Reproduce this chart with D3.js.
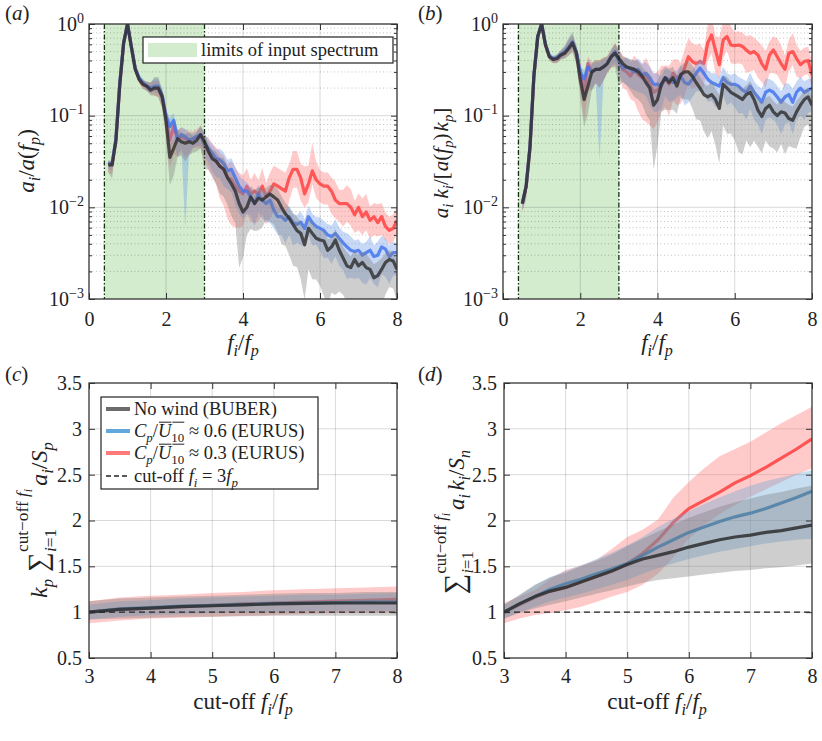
<!DOCTYPE html>
<html>
<head>
<meta charset="utf-8">
<script src="https://cdn.jsdelivr.net/npm/d3@7"></script>
<style>
  body { margin: 0; background: #fff; }
  text { font-family: "Liberation Serif", "DejaVu Serif", serif; fill: #222; white-space: pre; }
</style>
</head>
<body>
<script>
// ---------- data ----------
// frequency grid f_i/f_p for panels (a) and (b)
var fGrid = [0.5,0.6,0.7,0.8,0.9,1.0,1.1,1.2,1.3,1.4,1.5,1.6,1.7,1.8,1.9,2.0,2.1,2.2,2.3,2.4,2.5,2.6,2.7,2.8,2.9,
  3.0,3.1,3.2,3.3,3.4,3.5,3.6,3.7,3.8,3.9,4.0,4.1,4.2,4.3,4.4,4.5,4.6,4.7,4.8,4.9,5.0,5.1,5.2,5.3,5.4,5.5,5.6,5.7,5.8,5.9,
  6.0,6.1,6.2,6.3,6.4,6.5,6.6,6.7,6.8,6.9,7.0,7.1,7.2,7.3,7.4,7.5,7.6,7.7,7.8,7.9,8.0];
var specLimits = [0.4, 3];

// (a) a_i / a(f_p)
var aBlack = [0.029,0.029,0.054,0.22,0.62,1.0, 0.56,0.32,0.25,0.22,0.21,0.19,0.20,0.20,0.16,
  0.089,0.035,0.044,0.056,0.052,0.050,0.052,0.050,0.054,0.062,
  0.052,0.041,0.034,0.032,0.028,0.026,0.021,0.018,0.015,0.011,
  0.0089,0.010,0.013,0.011,0.0126,0.012,0.013,0.014,0.013,0.012,
  0.010,0.0085,0.0076,0.0065,0.0056,0.0052,0.0039,0.0059,0.0052,0.0046,
  0.0044,0.0043,0.0034,0.0037,0.0044,0.0034,0.0028,0.0023,0.0022,0.0027,
  0.0023,0.0025,0.0022,0.0021,0.0017,0.0018,0.0021,0.0025,0.0027,0.0026,0.0021];
var aBlue = [0.030,0.030,0.056,0.23,0.63,1.0, 0.57,0.33,0.26,0.23,0.21,0.20,0.21,0.21,0.17,
  0.10,0.076,0.089,0.056,0.062,0.059,0.054,0.056,0.059,0.062,
  0.050,0.044,0.039,0.034,0.033,0.030,0.025,0.026,0.021,0.017,
  0.015,0.015,0.013,0.011,0.014,0.012,0.011,0.012,0.0093,0.0079,
  0.0079,0.0072,0.0079,0.0068,0.0065,0.0069,0.0059,0.0079,0.0068,0.0062,
  0.0059,0.0056,0.0050,0.0048,0.0052,0.0046,0.0041,0.0037,0.0034,0.0033,
  0.0034,0.0030,0.0032,0.0034,0.0029,0.0030,0.0037,0.0035,0.0029,0.0032,0.0032];
var aRed = [0.030,0.029,0.055,0.22,0.62,1.0, 0.56,0.33,0.25,0.22,0.21,0.20,0.20,0.20,0.16,
  0.10,0.054,0.076,0.056,0.059,0.056,0.054,0.056,0.059,0.062,
  0.046,0.041,0.035,0.032,0.028,0.026,0.021,0.020,0.017,0.015,
  0.014,0.017,0.014,0.015,0.014,0.017,0.013,0.015,0.018,0.017,
  0.016,0.015,0.021,0.026,0.026,0.021,0.014,0.018,0.025,0.020,
  0.018,0.017,0.017,0.015,0.012,0.011,0.011,0.011,0.010,0.0083,
  0.010,0.0079,0.0089,0.0072,0.0079,0.0068,0.0079,0.0062,0.0056,0.0059,0.0072];

// (b) a_i k_i / [a(f_p) k_p]
var bBlack = [0.011,0.017,0.046,0.27,0.73,1.0, 0.59,0.44,0.41,0.42,0.46,0.48,0.54,0.62,0.48,
  0.25,0.15,0.21,0.30,0.32,0.32,0.34,0.37,0.44,0.48,
  0.42,0.37,0.34,0.33,0.32,0.30,0.27,0.23,0.20,0.13,
  0.15,0.22,0.26,0.23,0.26,0.21,0.28,0.30,0.30,0.27,
  0.23,0.20,0.17,0.16,0.17,0.15,0.12,0.22,0.20,0.18,
  0.17,0.16,0.15,0.17,0.18,0.15,0.115,0.098,0.12,0.13,
  0.11,0.10,0.11,0.107,0.093,0.089,0.11,0.13,0.15,0.16,0.13];
var bBlue = [0.011,0.017,0.047,0.28,0.74,1.0, 0.60,0.45,0.42,0.43,0.47,0.50,0.56,0.64,0.50,
  0.30,0.25,0.34,0.30,0.32,0.32,0.34,0.37,0.44,0.50,
  0.39,0.33,0.34,0.32,0.30,0.32,0.28,0.29,0.26,0.22,
  0.22,0.21,0.26,0.25,0.23,0.25,0.27,0.23,0.22,0.25,
  0.29,0.33,0.29,0.25,0.23,0.22,0.21,0.26,0.23,0.22,
  0.22,0.21,0.19,0.18,0.21,0.18,0.16,0.14,0.18,0.19,
  0.18,0.16,0.14,0.16,0.17,0.14,0.18,0.20,0.18,0.19,0.20];
var bRed = [0.011,0.017,0.046,0.27,0.73,1.0, 0.59,0.44,0.41,0.42,0.46,0.49,0.55,0.63,0.49,
  0.30,0.18,0.37,0.30,0.32,0.32,0.34,0.37,0.44,0.50,
  0.40,0.32,0.30,0.27,0.32,0.28,0.26,0.27,0.22,0.18,
  0.19,0.22,0.25,0.22,0.29,0.26,0.27,0.33,0.44,0.39,
  0.37,0.39,0.37,0.62,0.76,0.52,0.36,0.67,0.73,0.59,
  0.58,0.59,0.57,0.52,0.48,0.50,0.46,0.37,0.32,0.46,
  0.52,0.44,0.37,0.32,0.48,0.50,0.42,0.36,0.39,0.40,0.28];

// spread of the shaded bands, in decades below / above the mean (same in (a) and (b))
var blackDn = [0.08,0.15,0.05,0.03,0.02,0.01, 0.03,0.04,0.04,0.05,0.05,0.06,0.08,0.1,0.12,
  0.2,0.3,0.3,0.2,0.15,0.2,0.15,0.1,0.12,0.15, 0.3,0.2,0.2,0.25,0.3,0.3,0.3,0.35,0.35,0.7,
  0.5,0.3,0.35,0.3,0.35,0.3,0.25,0.3,0.3,0.35, 0.4,0.35,0.4,0.45,0.4,0.5,0.6,0.45,0.5,0.45,
  0.5,0.6,0.6,0.5,0.6,0.45,0.4,0.4,0.35,0.45, 0.4,0.4,0.35,0.45,0.3,0.3,0.4,0.35,0.3,0.3,0.35];
var blackUp = [0.04,0.04,0.03,0.02,0.01,0.0, 0.03,0.03,0.03,0.04,0.05,0.08,0.12,0.12,0.08,
  0.08,0.15,0.1,0.1,0.1,0.1,0.1,0.08,0.08,0.1, 0.1,0.08,0.1,0.1,0.1,0.12,0.1,0.12,0.15,0.2,
  0.2,0.15,0.12,0.15,0.12,0.12,0.1,0.1,0.12,0.12, 0.12,0.12,0.12,0.12,0.15,0.12,0.15,0.1,0.12,0.12,
  0.1,0.12,0.12,0.1,0.12,0.12,0.12,0.15,0.12,0.1, 0.12,0.12,0.15,0.12,0.15,0.15,0.12,0.1,0.1,0.1,0.1];
var blueDn = [0.05,0.08,0.04,0.03,0.02,0.01, 0.03,0.03,0.04,0.04,0.05,0.05,0.06,0.08,0.1,
  0.15,0.25,0.2,0.2,0.15,1.0,0.15,0.1,0.1,0.12, 0.15,0.15,0.2,0.2,0.2,0.25,0.2,0.25,0.3,0.3,
  0.3,0.25,0.2,0.25,0.2,0.2,0.2,0.25,0.2,0.2, 0.2,0.25,0.2,0.25,0.2,0.25,0.2,0.2,0.25,0.2,
  0.25,0.3,0.25,0.3,0.25,0.3,0.3,0.35,0.3,0.3, 0.3,0.3,0.35,0.3,0.3,0.35,0.3,0.3,0.3,0.25,0.25];
var blueUp = [0.03,0.03,0.03,0.02,0.01,0.0, 0.03,0.03,0.03,0.04,0.04,0.06,0.08,0.08,0.06,
  0.06,0.1,0.08,0.08,0.08,0.08,0.08,0.06,0.06,0.08, 0.1,0.1,0.1,0.1,0.12,0.12,0.12,0.12,0.12,0.12,
  0.12,0.1,0.1,0.1,0.1,0.1,0.12,0.1,0.1,0.1, 0.1,0.1,0.12,0.1,0.1,0.12,0.1,0.12,0.1,0.1,
  0.12,0.1,0.12,0.12,0.15,0.12,0.12,0.15,0.15,0.12, 0.12,0.12,0.12,0.15,0.12,0.15,0.12,0.12,0.12,0.12,0.1];
var redDn = [0.1,0.1,0.05,0.03,0.02,0.01, 0.03,0.04,0.04,0.05,0.05,0.06,0.08,0.1,0.12,
  0.2,0.3,0.3,0.2,0.15,0.2,0.15,0.1,0.12,0.15, 0.15,0.2,0.2,0.25,0.35,0.4,0.45,0.5,0.45,0.4,
  0.35,0.3,0.3,0.35,0.3,0.3,0.3,0.3,0.3,0.3, 0.25,0.3,0.25,0.2,0.2,0.25,0.15,0.2,0.15,0.2,
  0.2,0.2,0.2,0.25,0.2,0.2,0.25,0.2,0.2,0.2, 0.25,0.2,0.2,0.2,0.2,0.15,0.2,0.15,0.15,0.15,0.15];
var redUp = [0.04,0.04,0.03,0.02,0.01,0.0, 0.03,0.03,0.03,0.04,0.05,0.06,0.08,0.08,0.06,
  0.06,0.1,0.08,0.1,0.1,0.1,0.1,0.08,0.08,0.1, 0.12,0.15,0.15,0.15,0.15,0.15,0.15,0.2,0.2,0.2,
  0.2,0.2,0.15,0.2,0.15,0.2,0.15,0.2,0.2,0.2, 0.2,0.2,0.15,0.2,0.2,0.15,0.3,0.2,0.3,0.2,
  0.15,0.15,0.15,0.15,0.2,0.15,0.15,0.2,0.2,0.15, 0.15,0.2,0.2,0.15,0.15,0.2,0.15,0.15,0.15,0.15,0.15];

// (c) k_p sum a_i / S_p versus cut-off
var cutC = [3,3.5,4,4.5,5,5.5,6,6.5,7,7.5,8];
var cBlack = [1.00,1.03,1.045,1.06,1.07,1.08,1.09,1.095,1.10,1.10,1.10];
var cBlue  = [1.00,1.035,1.05,1.065,1.075,1.085,1.095,1.10,1.105,1.11,1.11];
var cRed   = [1.00,1.03,1.045,1.06,1.075,1.09,1.10,1.11,1.12,1.13,1.14];
var cBlackLo = [0.92,0.93,0.94,0.95,0.95,0.955,0.96,0.96,0.96,0.96,0.96];
var cBlackHi = [1.12,1.15,1.16,1.17,1.18,1.19,1.20,1.21,1.21,1.22,1.22];
var cBlueLo  = [0.92,0.95,0.97,0.98,0.99,1.00,1.00,1.01,1.01,1.01,1.01];
var cBlueHi  = [1.08,1.12,1.13,1.15,1.16,1.17,1.18,1.19,1.19,1.20,1.21];
var cRedLo   = [0.88,0.91,0.93,0.94,0.95,0.96,0.97,0.98,0.99,0.99,1.00];
var cRedHi   = [1.12,1.16,1.18,1.19,1.21,1.22,1.24,1.25,1.26,1.27,1.28];

// (d) sum a_i k_i / S_n versus cut-off
var cutD = [3,3.25,3.5,3.75,4,4.25,4.5,4.75,5,5.25,5.5,5.75,6,6.25,6.5,6.75,7,7.25,7.5,7.75,8];
var dBlack = [1.00,1.09,1.17,1.23,1.27,1.33,1.39,1.45,1.52,1.58,1.62,1.66,1.71,1.75,1.79,1.82,1.84,1.87,1.89,1.92,1.95];
var dBlue  = [1.00,1.09,1.17,1.25,1.31,1.36,1.42,1.47,1.53,1.62,1.71,1.79,1.87,1.93,1.99,2.04,2.08,2.13,2.19,2.25,2.32];
var dRed   = [1.00,1.08,1.16,1.23,1.27,1.33,1.39,1.45,1.53,1.64,1.79,1.98,2.13,2.22,2.31,2.41,2.49,2.58,2.68,2.78,2.89];
var dBlackLo = [0.93,0.99,1.04,1.08,1.12,1.16,1.20,1.24,1.28,1.32,1.35,1.37,1.39,1.41,1.43,1.45,1.46,1.48,1.49,1.51,1.53];
var dBlackHi = [1.08,1.19,1.30,1.38,1.43,1.50,1.56,1.63,1.72,1.80,1.88,1.96,2.03,2.09,2.15,2.20,2.24,2.28,2.31,2.35,2.38];
var dBlueLo  = [0.93,1.00,1.06,1.12,1.16,1.20,1.25,1.30,1.35,1.42,1.48,1.53,1.58,1.62,1.66,1.69,1.72,1.75,1.77,1.79,1.80];
var dBlueHi  = [1.08,1.18,1.29,1.38,1.45,1.51,1.58,1.65,1.73,1.82,1.93,2.02,2.10,2.18,2.25,2.32,2.38,2.43,2.47,2.51,2.55];
var dRedLo   = [0.88,0.93,0.97,0.99,1.02,1.06,1.11,1.17,1.22,1.30,1.42,1.60,1.80,1.95,2.07,2.17,2.26,2.34,2.42,2.50,2.57];
var dRedHi   = [1.10,1.17,1.24,1.36,1.46,1.51,1.57,1.69,1.82,1.90,2.01,2.25,2.42,2.57,2.70,2.78,2.86,2.96,3.06,3.15,3.24];

// ---------- drawing ----------
var width = 822, height = 741;
var FONT = "Liberation Serif, DejaVu Serif, serif";
var svg = d3.select("body").append("svg").attr("width", width).attr("height", height);
var defs = svg.append("defs");

var pa = { l: 89, r: 397, t: 24, b: 299 },
    pb = { l: 503, r: 812, t: 24, b: 299 },
    pc = { l: 89, r: 397, t: 383, b: 658 },
    pd = { l: 504, r: 812, t: 383, b: 658 };

// small helper to lay out text with italic parts, sub/superscripts and overlines
function rich(g, x0, y0, parts, size) {
  var cx = x0;
  parts.forEach(function (p) {
    if (p.stack) {
      var w1 = rich(g, cx, y0 + p.stack.upDy * size, p.stack.up, size * 0.72);
      var w2 = rich(g, cx, y0 + p.stack.dnDy * size, p.stack.dn, size * 0.72);
      cx += Math.max(w1, w2) + 3;
      return;
    }
    var fs = size * (p.s || 1);
    var t = g.append("text").attr("x", cx).attr("y", y0 + (p.dy || 0) * size)
      .attr("font-family", FONT)
      .style("font-size", fs + "px")
      .style("font-style", p.i ? "italic" : "normal")
      .text(p.t);
    var w = t.node().getComputedTextLength();
    if (p.over) {
      g.append("line").attr("x1", cx + 1).attr("x2", cx + w)
        .attr("y1", y0 - size * 0.8).attr("y2", y0 - size * 0.8)
        .attr("stroke", "#222").attr("stroke-width", 1);
    }
    cx += w + (p.gap || 0) * size;
  });
  return cx - x0;
}
var SP = "\u00a0";
function I(t, o) { return Object.assign({ t: t, i: 1 }, o || {}); }
function R(t, o) { return Object.assign({ t: t.replace(/ /g, SP) }, o || {}); }
function SUB(t, it, o) { return Object.assign({ t: t, i: it === undefined ? 1 : it, s: 0.7, dy: 0.25 }, o || {}); }

function label(parts, size, cx, cy, rotate) {
  var g = svg.append("g");
  var w = rich(g, 0, 0, parts, size);
  if (rotate) g.attr("transform", "translate(" + cx + "," + cy + ") rotate(-90) translate(" + (-w / 2) + ",0)");
  else g.attr("transform", "translate(" + (cx - w / 2) + "," + cy + ")");
  return g;
}

function styleAxis(a, fs) {
  a.attr("font-family", FONT).attr("font-size", fs);
  a.select(".domain").remove();
  a.selectAll(".tick line").attr("stroke", "#333").attr("stroke-width", 1);
  a.selectAll("text").attr("fill", "#222");
}

function clipFor(p, id) {
  defs.append("clipPath").attr("id", id).append("rect")
    .attr("x", p.l).attr("y", p.t).attr("width", p.r - p.l).attr("height", p.b - p.t);
  return "url(#" + id + ")";
}

// ----- log panels (a), (b)
function logPanel(p, id, series) {
  var x = d3.scaleLinear().domain([0, 8]).range([p.l, p.r]);
  var y = d3.scaleLog().domain([1e-3, 1]).range([p.b, p.t]);
  var g = svg.append("g");
  var clip = clipFor(p, id);

  g.append("rect").attr("x", x(specLimits[0])).attr("y", p.t)
    .attr("width", x(specLimits[1]) - x(specLimits[0])).attr("height", p.b - p.t)
    .attr("fill", "#d3ecce");

  var all = y.ticks();
  var major = all.filter(function (d) { return Math.abs(Math.log10(d) - Math.round(Math.log10(d))) < 1e-9; });
  var minor = all.filter(function (d) { return major.indexOf(d) < 0; });

  g.selectAll(".mg").data(minor).enter().append("line")
    .attr("x1", p.l).attr("x2", p.r).attr("y1", y).attr("y2", y)
    .attr("stroke", "#000").attr("stroke-opacity", 0.3).attr("stroke-width", 0.8)
    .attr("stroke-dasharray", "1,2.5");
  g.selectAll(".hg").data(major.slice(1, -1)).enter().append("line")
    .attr("x1", p.l).attr("x2", p.r).attr("y1", y).attr("y2", y)
    .attr("stroke", "#000").attr("stroke-opacity", 0.15);
  g.selectAll(".vg").data([2, 4, 6]).enter().append("line")
    .attr("x1", x).attr("x2", x).attr("y1", p.t).attr("y2", p.b)
    .attr("stroke", "#000").attr("stroke-opacity", 0.15);

  series.forEach(function (s) {
    var area = d3.area()
      .x(function (d, i) { return x(fGrid[i]); })
      .y0(function (d, i) { return y(d / Math.pow(10, s.dn[i])); })
      .y1(function (d, i) { return y(d * Math.pow(10, s.up[i])); });
    g.append("path").datum(s.v).attr("d", area).attr("clip-path", clip)
      .attr("fill", s.band).attr("fill-opacity", 0.38);
    var line = d3.line().x(function (d, i) { return x(fGrid[i]); }).y(function (d) { return y(d); });
    g.append("path").datum(s.v).attr("d", line).attr("clip-path", clip)
      .attr("fill", "none").attr("stroke", s.line).attr("stroke-opacity", 0.82)
      .attr("stroke-width", 3.2).attr("stroke-linejoin", "round");
  });

  g.selectAll(".lim").data(specLimits).enter().append("line")
    .attr("x1", x).attr("x2", x).attr("y1", p.t).attr("y2", p.b)
    .attr("stroke", "#123012").attr("stroke-width", 1.3).attr("stroke-dasharray", "5,2,1.5,2");

  var xb = g.append("g").attr("transform", "translate(0," + p.b + ")")
    .call(d3.axisBottom(x).tickValues([0, 2, 4, 6, 8]).tickSize(-6).tickPadding(13).tickSizeOuter(0));
  styleAxis(xb, 20);
  var xt = g.append("g").attr("transform", "translate(0," + p.t + ")")
    .call(d3.axisTop(x).tickValues([0, 2, 4, 6, 8]).tickSize(-6).tickFormat("").tickSizeOuter(0));
  styleAxis(xt, 20);
  var yl = g.append("g").attr("transform", "translate(" + p.l + ",0)")
    .call(d3.axisLeft(y).tickValues(major).tickSize(-6).tickPadding(5).tickSizeOuter(0));
  styleAxis(yl, 20);
  yl.selectAll(".tick text").each(function (d) {
    var t = d3.select(this).text("").attr("dy", "0.3em");
    var e = Math.round(Math.log10(d));
    t.append("tspan").text("10");
    t.append("tspan").attr("dy", "-0.55em").style("font-size", "14px").text(e === 0 ? "0" : "\u2212" + (-e));
  });
  var ylm = g.append("g").attr("transform", "translate(" + p.l + ",0)")
    .call(d3.axisLeft(y).tickValues(minor).tickSize(-3).tickFormat("").tickSizeOuter(0));
  styleAxis(ylm, 20);
  var yr = g.append("g").attr("transform", "translate(" + p.r + ",0)")
    .call(d3.axisRight(y).tickValues(major).tickSize(-6).tickFormat("").tickSizeOuter(0));
  styleAxis(yr, 20);
  var yrm = g.append("g").attr("transform", "translate(" + p.r + ",0)")
    .call(d3.axisRight(y).tickValues(minor).tickSize(-3).tickFormat("").tickSizeOuter(0));
  styleAxis(yrm, 20);

  g.append("rect").attr("x", p.l).attr("y", p.t).attr("width", p.r - p.l).attr("height", p.b - p.t)
    .attr("fill", "none").attr("stroke", "#333").attr("stroke-width", 1.3);
  return g;
}

// ----- linear panels (c), (d)
function linPanel(p, id, xs, series) {
  var x = d3.scaleLinear().domain([3, 8]).range([p.l, p.r]);
  var y = d3.scaleLinear().domain([0.5, 3.5]).range([p.b, p.t]);
  var g = svg.append("g");
  var clip = clipFor(p, id);
  var yt = [0.5, 1, 1.5, 2, 2.5, 3, 3.5], xt = [3, 4, 5, 6, 7, 8];

  g.selectAll(".hg").data(yt.slice(1, -1)).enter().append("line")
    .attr("x1", p.l).attr("x2", p.r).attr("y1", y).attr("y2", y)
    .attr("stroke", "#000").attr("stroke-opacity", 0.15);
  g.selectAll(".vg").data(xt.slice(1, -1)).enter().append("line")
    .attr("x1", x).attr("x2", x).attr("y1", p.t).attr("y2", p.b)
    .attr("stroke", "#000").attr("stroke-opacity", 0.15);

  series.forEach(function (s) {
    var area = d3.area()
      .x(function (d, i) { return x(xs[i]); })
      .y0(function (d, i) { return y(s.lo[i]); })
      .y1(function (d, i) { return y(s.hi[i]); });
    g.append("path").datum(s.v).attr("d", area).attr("clip-path", clip)
      .attr("fill", s.band).attr("fill-opacity", 0.38);
    var line = d3.line().x(function (d, i) { return x(xs[i]); }).y(function (d) { return y(d); });
    g.append("path").datum(s.v).attr("d", line).attr("clip-path", clip)
      .attr("fill", "none").attr("stroke", s.line).attr("stroke-opacity", 0.85)
      .attr("stroke-width", 3.2).attr("stroke-linejoin", "round");
  });

  g.append("line").attr("x1", p.l).attr("x2", p.r).attr("y1", y(1)).attr("y2", y(1))
    .attr("stroke", "#222").attr("stroke-width", 1.3).attr("stroke-dasharray", "6,4");

  var xb = g.append("g").attr("transform", "translate(0," + p.b + ")")
    .call(d3.axisBottom(x).tickValues(xt).tickSize(-6).tickPadding(11).tickSizeOuter(0).tickFormat(String));
  styleAxis(xb, 20);
  var xtop = g.append("g").attr("transform", "translate(0," + p.t + ")")
    .call(d3.axisTop(x).tickValues(xt).tickSize(-6).tickFormat("").tickSizeOuter(0));
  styleAxis(xtop, 20);
  var yl = g.append("g").attr("transform", "translate(" + p.l + ",0)")
    .call(d3.axisLeft(y).tickValues(yt).tickSize(-6).tickPadding(7).tickSizeOuter(0).tickFormat(String));
  styleAxis(yl, 20);
  var yr = g.append("g").attr("transform", "translate(" + p.r + ",0)")
    .call(d3.axisRight(y).tickValues(yt).tickSize(-6).tickFormat("").tickSizeOuter(0));
  styleAxis(yr, 20);

  g.append("rect").attr("x", p.l).attr("y", p.t).attr("width", p.r - p.l).attr("height", p.b - p.t)
    .attr("fill", "none").attr("stroke", "#333").attr("stroke-width", 1.3);
  return g;
}

var gray = { band: "#7d7d7d", line: "#2e2e2e" };
logPanel(pa, "clipA", [
  { v: aRed, dn: redDn, up: redUp, band: "#ff7474", line: "#ff3c3c" },
  { v: aBlue, dn: blueDn, up: blueUp, band: "#6b9be8", line: "#3f72ee" },
  { v: aBlack, dn: blackDn, up: blackUp, band: gray.band, line: gray.line }
]);
logPanel(pb, "clipB", [
  { v: bRed, dn: redDn, up: redUp, band: "#ff7474", line: "#ff3c3c" },
  { v: bBlue, dn: blueDn, up: blueUp, band: "#6b9be8", line: "#3f72ee" },
  { v: bBlack, dn: blackDn, up: blackUp, band: gray.band, line: gray.line }
]);
linPanel(pc, "clipC", cutC, [
  { v: cRed, lo: cRedLo, hi: cRedHi, band: "#ff7474", line: "#ff4040" },
  { v: cBlue, lo: cBlueLo, hi: cBlueHi, band: "#6aa8d8", line: "#2f7fbd" },
  { v: cBlack, lo: cBlackLo, hi: cBlackHi, band: gray.band, line: gray.line }
]);
linPanel(pd, "clipD", cutD, [
  { v: dRed, lo: dRedLo, hi: dRedHi, band: "#ff7474", line: "#ff4040" },
  { v: dBlue, lo: dBlueLo, hi: dBlueHi, band: "#6aa8d8", line: "#2f7fbd" },
  { v: dBlack, lo: dBlackLo, hi: dBlackHi, band: gray.band, line: gray.line }
]);

// ----- legends
var lgA = svg.append("g");
lgA.append("rect").attr("x", 143).attr("y", 37).attr("width", 250).attr("height", 26)
  .attr("fill", "#fff").attr("stroke", "#222").attr("stroke-width", 1.2);
lgA.append("rect").attr("x", 148).attr("y", 43).attr("width", 49).attr("height", 14).attr("fill", "#d3ecce");
rich(lgA, 201, 55.5, [R("limits of input spectrum")], 18.5);

var lgC = svg.append("g");
lgC.append("rect").attr("x", 101).attr("y", 397).attr("width", 217).attr("height", 92)
  .attr("fill", "#fff").attr("stroke", "#222").attr("stroke-width", 1.2);
var legendRows = [
  { y: 409, stroke: "#6b6b6b", dash: null, w: 4,
    parts: [R("No wind (BUBER)")] },
  { y: 431, stroke: "#62a8dc", dash: null, w: 4,
    parts: [I("C"), SUB("p"), R("/"), I("U", { over: 1 }), SUB("10", 0, { over: 1 }), R(" \u2248 0.6 (EURUS)")] },
  { y: 453, stroke: "#ff7a7a", dash: null, w: 4,
    parts: [I("C"), SUB("p"), R("/"), I("U", { over: 1 }), SUB("10", 0, { over: 1 }), R(" \u2248 0.3 (EURUS)")] },
  { y: 476, stroke: "#222", dash: "5,3", w: 1.3,
    parts: [R("cut-off "), I("f"), SUB("i"), R(" = 3"), I("f"), SUB("p")] }
];
legendRows.forEach(function (r) {
  lgC.append("line").attr("x1", 106).attr("x2", 130).attr("y1", r.y).attr("y2", r.y)
    .attr("stroke", r.stroke).attr("stroke-width", r.w).attr("stroke-dasharray", r.dash);
  rich(lgC, 134, r.y + 6, r.parts, 18.5);
});

// ----- axis labels
label([I("a"), SUB("i"), R("/"), I("a"), R("("), I("f"), SUB("p"), R(")")], 23, 34, 161, true);
label([I("a"), SUB("i"), R(" "), I("k"), SUB("i"), R("/[", { gap: 0.05 }), I("a"), R("("), I("f"), SUB("p"), R(")", { gap: 0.1 }), I("k"), SUB("p"), R("]")], 21, 448, 163, true);
label([I("f"), SUB("i"), R("/"), I("f"), SUB("p")], 23, 243, 350, false);
label([I("f"), SUB("i"), R("/"), I("f"), SUB("p")], 23, 657, 350, false);
label([R("cut-off "), I("f"), SUB("i"), R("/"), I("f"), SUB("p")], 23, 243, 709, false);
label([R("cut-off "), I("f"), SUB("i"), R("/"), I("f"), SUB("p")], 23, 657, 709, false);

var sumStack = { stack: { upDy: -0.8, dnDy: 0.38,
  up: [R("cut\u2212off "), I("f"), SUB("i")], dn: [I("i"), R("=1")] } };
label([I("k"), SUB("p", 1, { gap: 0.3 }), R("\u2211", { s: 1.15 }), sumStack,
  I("a"), SUB("i"), R("/"), I("S"), SUB("p")], 24, 47, 520, true);
label([R("\u2211", { s: 1.25 }), sumStack, I("a"), SUB("i", 1, { gap: 0.15 }), I("k"), SUB("i"), R("/"), I("S"), SUB("n")], 23, 464, 522, true);

// ----- panel letters
[["a", 5, 20], ["b", 418, 20], ["c", 5, 381], ["d", 418, 381]].forEach(function (d) {
  rich(svg.append("g"), d[1], d[2], [R("("), I(d[0]), R(")")], 21);
});
</script>
</body>
</html>
